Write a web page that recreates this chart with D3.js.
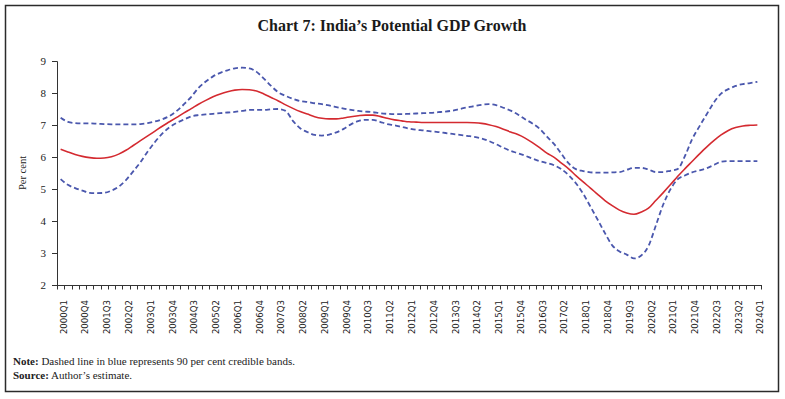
<!DOCTYPE html>
<html lang="en">
  <head>
    <meta charset="UTF-8" />
    <script src="https://d3js.org/d3.v7.min.js"></script>
    <style>
      body { margin: 0; background: #fff; }
      svg { display: block; }
      .serif { font-family: "Liberation Serif", "DejaVu Serif", serif; }
      .xlab text { font-family: "DejaVu Sans", Verdana, sans-serif; font-size: 8.6px; fill: #222; }
    </style>
  </head>
  <body>
    <div id="chart"></div>
    <script>
      // Quarters 2000Q1 .. 2024Q1
      var years = d3.range(2000, 2025);
      var quarters = [];
      years.forEach(function (y) {
        [1, 2, 3, 4].forEach(function (q) {
          if (y < 2024 || q === 1) quarters.push(y + "Q" + q);
        });
      });

      // Potential GDP growth (red, solid)
      var potential = [
        6.24, 6.16, 6.08, 6.02, 5.98, 5.96, 5.97, 6.01, 6.09, 6.21,
        6.36, 6.51, 6.66, 6.81, 6.96, 7.10, 7.24, 7.38, 7.51, 7.65,
        7.77, 7.88, 7.97, 8.04, 8.09, 8.11, 8.10, 8.06, 7.97, 7.86,
        7.75, 7.63, 7.52, 7.42, 7.34, 7.26, 7.21, 7.19, 7.19, 7.22,
        7.26, 7.29, 7.31, 7.31, 7.27, 7.21, 7.16, 7.13, 7.10, 7.09,
        7.08, 7.08, 7.08, 7.08, 7.08, 7.08, 7.08, 7.07, 7.05, 7.01,
        6.95, 6.87, 6.78, 6.70, 6.59, 6.45, 6.29, 6.12, 5.99, 5.81,
        5.63, 5.42, 5.22, 5.03, 4.83, 4.64, 4.48, 4.34, 4.25, 4.21,
        4.28, 4.40, 4.64, 4.88, 5.13, 5.39, 5.63, 5.86, 6.09, 6.31,
        6.51, 6.69, 6.83, 6.92, 6.97, 6.99, 7.00
      ];

      // Upper 90 per cent credible band (blue, dashed)
      var upper = [
        7.23, 7.10, 7.06, 7.05, 7.05, 7.04, 7.03, 7.02, 7.02, 7.02,
        7.02, 7.03, 7.06, 7.11, 7.18, 7.28, 7.44, 7.65, 7.88, 8.16,
        8.36, 8.52, 8.63, 8.71, 8.77, 8.79, 8.77, 8.66, 8.45, 8.22,
        8.02, 7.91, 7.82, 7.75, 7.72, 7.68, 7.65, 7.61, 7.56, 7.51,
        7.47, 7.44, 7.42, 7.40, 7.37, 7.35, 7.34, 7.34, 7.35, 7.36,
        7.37, 7.38, 7.40, 7.42, 7.45, 7.50, 7.55, 7.59, 7.63, 7.65,
        7.62, 7.54, 7.45, 7.33, 7.18, 7.05, 6.88, 6.64, 6.40, 6.10,
        5.80, 5.62, 5.56, 5.52, 5.51, 5.51, 5.52, 5.53, 5.60, 5.66,
        5.66, 5.61, 5.53, 5.53, 5.57, 5.62, 6.02, 6.55, 6.95, 7.33,
        7.70, 7.98, 8.12, 8.22, 8.28, 8.31, 8.35
      ];

      // Lower 90 per cent credible band (blue, dashed)
      var lower = [
        5.31, 5.13, 5.03, 4.95, 4.88, 4.87, 4.88, 4.95, 5.07, 5.28,
        5.55, 5.84, 6.17, 6.47, 6.73, 6.93, 7.07, 7.17, 7.27, 7.31,
        7.33, 7.35, 7.37, 7.39, 7.41, 7.44, 7.47, 7.47, 7.47, 7.49,
        7.50, 7.44, 7.13, 6.90, 6.78, 6.69, 6.67, 6.70, 6.77, 6.88,
        7.02, 7.12, 7.16, 7.16, 7.10, 7.03, 6.99, 6.94, 6.89, 6.85,
        6.83, 6.80, 6.78, 6.75, 6.72, 6.69, 6.66, 6.63, 6.58, 6.50,
        6.40, 6.29, 6.19, 6.12, 6.04, 5.95, 5.87, 5.81, 5.74, 5.62,
        5.43, 5.18, 4.85, 4.45, 4.04, 3.62, 3.24, 3.05, 2.95, 2.83,
        2.92, 3.22, 3.85, 4.50, 4.98, 5.30, 5.42, 5.52, 5.58, 5.65,
        5.75, 5.85, 5.87, 5.87, 5.87, 5.87, 5.87
      ];

      var yTicks = [2, 3, 4, 5, 6, 7, 8, 9];
      var xLabels = quarters.filter(function (d, i) { return i % 3 === 0; });

      var width = 785, height = 399;
      var plot = { left: 57, right: 761, top: 61, bottom: 285 };

      var svg = d3.select("#chart").append("svg")
        .attr("width", width)
        .attr("height", height);

      // outer frame
      svg.append("rect")
        .attr("x", 5.5).attr("y", 5.5)
        .attr("width", 773).attr("height", 386)
        .attr("fill", "none")
        .attr("stroke", "#2b2b2b")
        .attr("stroke-width", 1.5);

      svg.append("text")
        .attr("class", "serif")
        .attr("x", 392)
        .attr("y", 31)
        .attr("text-anchor", "middle")
        .style("font-size", "16px")
        .style("font-weight", "bold")
        .style("fill", "#1a1a1a")
        .text("Chart 7: India\u2019s Potential GDP Growth");

      var x = d3.scaleBand().domain(quarters).range([plot.left, plot.right]);
      var y = d3.scaleLinear().domain([2, 9]).range([plot.bottom, plot.top]);
      var cx = function (i) { return x(quarters[i]) + x.bandwidth() / 2; };

      // y axis
      var yAxis = svg.append("g")
        .attr("transform", "translate(" + plot.left + ",0)")
        .call(d3.axisLeft(y).tickValues(yTicks).tickSize(5).tickPadding(6).tickFormat(d3.format("d")));
      yAxis.select(".domain").attr("stroke", "#333");
      yAxis.selectAll(".tick line").attr("stroke", "#333");
      yAxis.selectAll("text")
        .attr("class", "serif")
        .style("font-size", "11px")
        .style("fill", "#222");

      // x axis: ticks between categories
      var xg = svg.append("g").attr("class", "xlab");
      xg.append("line")
        .attr("x1", plot.left).attr("x2", plot.right)
        .attr("y1", plot.bottom + 0.5).attr("y2", plot.bottom + 0.5)
        .attr("stroke", "#333");
      xg.selectAll("line.tk")
        .data(d3.range(quarters.length + 1))
        .enter().append("line")
        .attr("class", "tk")
        .attr("x1", function (i) { return Math.round(plot.left + i * x.step()) + 0.5; })
        .attr("x2", function (i) { return Math.round(plot.left + i * x.step()) + 0.5; })
        .attr("y1", plot.bottom)
        .attr("y2", plot.bottom + 4.5)
        .attr("stroke", "#333");
      xg.selectAll("text")
        .data(xLabels)
        .enter().append("text")
        .attr("transform", function (d) {
          return "translate(" + (x(d) + x.bandwidth() / 2 + 3) + "," + (plot.bottom + 15) + ") rotate(-90)";
        })
        .attr("text-anchor", "end")
        .attr("dy", "0.35em")
        .text(function (d) { return d; });

      svg.append("text")
        .attr("class", "serif")
        .attr("transform", "translate(26," + (plot.top + plot.bottom) / 2 + ") rotate(-90)")
        .attr("text-anchor", "middle")
        .style("font-size", "10.5px")
        .style("fill", "#222")
        .text("Per cent");

      var line = d3.line()
        .x(function (d, i) { return cx(i); })
        .y(function (d) { return y(d); })
        .curve(d3.curveMonotoneX);

      [upper, lower].forEach(function (s) {
        svg.append("path")
          .attr("d", line(s))
          .attr("fill", "none")
          .attr("stroke", "#4a57ad")
          .attr("stroke-width", 1.8)
          .attr("stroke-dasharray", "5,3");
      });

      svg.append("path")
        .attr("d", line(potential))
        .attr("fill", "none")
        .attr("stroke", "#d42a30")
        .attr("stroke-width", 1.6);

      // notes
      var note = svg.append("text")
        .attr("class", "serif")
        .attr("x", 13).attr("y", 365)
        .style("font-size", "11px")
        .style("fill", "#222");
      note.append("tspan").style("font-weight", "bold").text("Note:");
      note.append("tspan").text(" Dashed line in blue represents 90 per cent credible bands.");

      var src = svg.append("text")
        .attr("class", "serif")
        .attr("x", 13).attr("y", 379)
        .style("font-size", "11px")
        .style("fill", "#222");
      src.append("tspan").style("font-weight", "bold").text("Source:");
      src.append("tspan").text(" Author\u2019s estimate.");
    </script>
  </body>
</html>
